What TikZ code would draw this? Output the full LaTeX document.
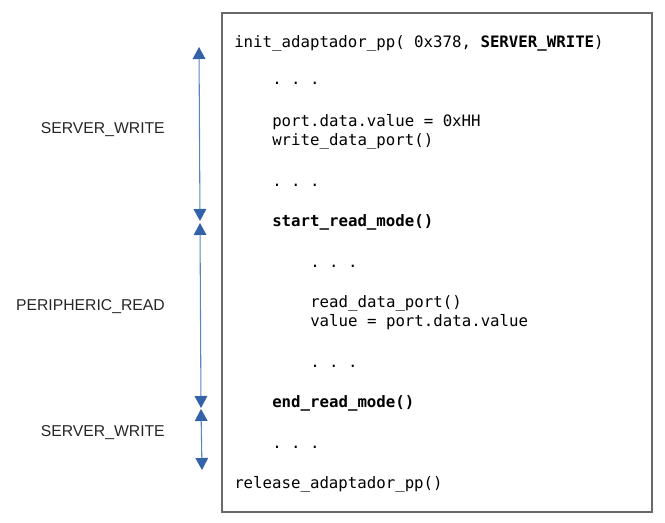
\documentclass[tikz,border=0pt]{standalone}
\usepackage{fontspec}
\setmainfont{Liberation Sans}
\setmonofont{DejaVu Sans Mono}
\usetikzlibrary{positioning,arrows.meta}
\tikzset{>={Triangle[width=9.5pt,length=9pt]}}
\definecolor{tipblue}{RGB}{50,98,168}
\definecolor{lineblue}{RGB}{88,132,192}
\definecolor{framegrey}{RGB}{105,105,105}
\tikzset{
	code/.style={anchor=base west, inner sep=0pt, font=\fontsize{11.8}{14}\selectfont\ttfamily},
	phase/.style={anchor=base east, inner sep=0pt, font=\fontsize{11.8}{14}\selectfont, text=black!85},
	span/.style={<->, lineblue, line width=0.8pt, >={Triangle[width=9.5pt,length=9pt,color=tipblue]}}
}

\begin{document}
\begin{tikzpicture}[x=0.75pt,y=-0.75pt]
		\useasboundingbox (0,0) rectangle (665,523);
		\draw[framegrey, line width=1.1pt] (222,13) rectangle (652,512);
		
		\node(C1)  [code] at (234,48)   {init\_adaptador\_pp( 0x378, \textbf{SERVER\_WRITE})};
		\node(C2)  [code] at (272,85)   {.~.~.};
		\node(C3)  [code] at (272,127)  {port.data.value = 0xHH};
		\node(C4)  [code] at (272,146)  {write\_data\_port()};
		\node(C5)  [code] at (272,187)  {.~.~.};
		\node(C6)  [code] at (272,227)  {\textbf{start\_read\_mode()}};
		\node(C7)  [code] at (310,268)  {.~.~.};
		\node(C8)  [code] at (310,308)  {read\_data\_port()};
		\node(C9)  [code] at (310,327)  {value = port.data.value};
		\node(C10) [code] at (310,368)  {.~.~.};
		\node(C11) [code] at (272,408)  {\textbf{end\_read\_mode()}};
		\node(C12) [code] at (272,449)  {.~.~.};
		\node(C13) [code] at (234,489)  {release\_adaptador\_pp()};
		
		\coordinate(A1) at (199,47);
		\coordinate(A2) at (200,221);
		\coordinate(A3) at (200,223);
		\coordinate(A4) at (201,408);
		\coordinate(A5) at (201,409);
		\coordinate(A6) at (202,470);
		
		\draw[span](A1) -- (A2);
		\draw[span](A3) -- (A4);
		\draw[span](A5) -- (A6);
		
		\node(P1) [phase] at (165,134) {SERVER\_WRITE};
		\node(P2) [phase] at (165,311) {PERIPHERIC\_READ};
		\node(P3) [phase] at (165,437) {SERVER\_WRITE};
	\end{tikzpicture}
\end{document}
